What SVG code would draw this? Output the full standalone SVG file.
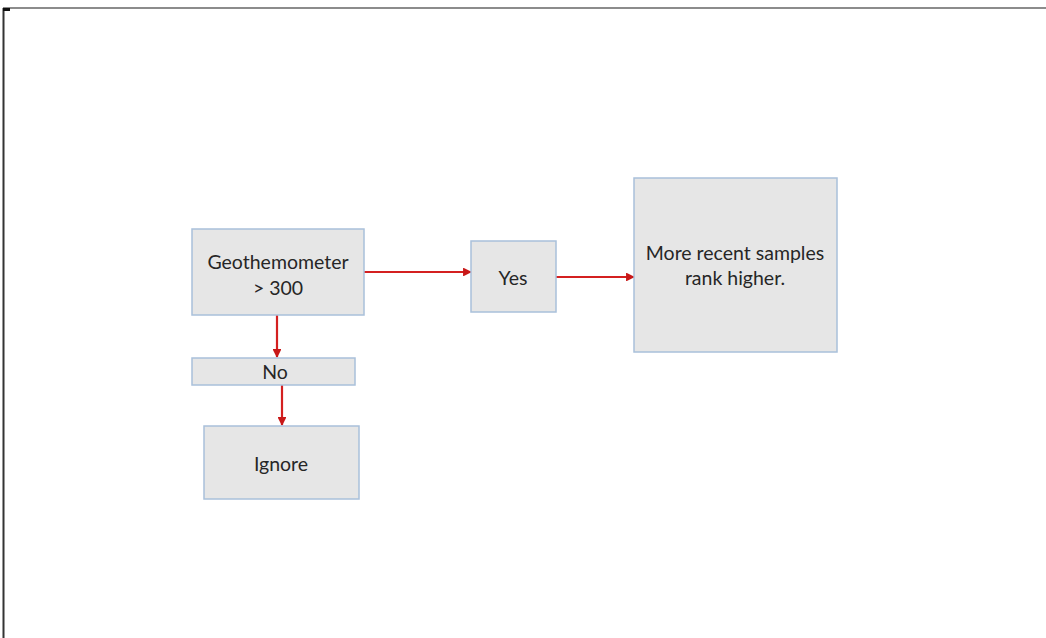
<svg xmlns="http://www.w3.org/2000/svg" width="1046" height="638" viewBox="0 0 1046 638">
  <style>
    .box { fill: #e6e6e6; stroke: #a9c0da; stroke-width: 1.5; }
    .lbl { font-family: Lato, "Open Sans", "Liberation Sans", sans-serif; font-size: 19.5px; fill: #262626; text-anchor: middle; dominant-baseline: central; }
    .edge { stroke: #d42020; stroke-width: 2.2; fill: none; marker-end: url(#arrow); }
  </style>
  <defs>
    <marker id="arrow" viewBox="0 0 10 10" refX="9" refY="5" markerWidth="4" markerHeight="4" orient="auto" markerUnits="strokeWidth">
      <path d="M0,0 L10,5 L0,10 z" fill="#c81818"/>
    </marker>
  </defs>
  <rect width="1046" height="638" fill="#ffffff"/>
  <!-- page frame -->
  <g id="frame" stroke="#333333" fill="none">
    <line x1="3" y1="8" x2="1046" y2="8" stroke-width="1.5" stroke="#666666"/>
    <line x1="3.5" y1="8" x2="3.5" y2="638" stroke-width="2"/>
    <line x1="3" y1="9.5" x2="10" y2="9.5" stroke-width="3" stroke="#111111"/>
  </g>
  <g id="connectors">
    <line class="edge" x1="364" y1="272" x2="471" y2="272"/>
    <line class="edge" x1="556" y1="277" x2="634" y2="277"/>
    <line class="edge" x1="277" y1="315" x2="277" y2="357"/>
    <line class="edge" x1="282" y1="385" x2="282" y2="425"/>
  </g>
  <g id="geo">
    <rect class="box" x="192" y="229" width="172" height="86"/>
    <text class="lbl" x="278" y="261">Geothemometer</text>
    <text class="lbl" x="278" y="287">&gt; 300</text>
  </g>
  <g id="no">
    <rect class="box" x="192" y="358" width="163" height="27"/>
    <text class="lbl" x="275" y="371">No</text>
  </g>
  <g id="ignore">
    <rect class="box" x="204" y="426" width="155" height="73"/>
    <text class="lbl" x="281" y="463">Ignore</text>
  </g>
  <g id="yes">
    <rect class="box" x="471" y="241" width="85" height="71"/>
    <text class="lbl" x="513" y="277">Yes</text>
  </g>
  <g id="recent">
    <rect class="box" x="634" y="178" width="203" height="174"/>
    <text class="lbl" x="735" y="252">More recent samples</text>
    <text class="lbl" x="735" y="277">rank higher.</text>
  </g>
</svg>
